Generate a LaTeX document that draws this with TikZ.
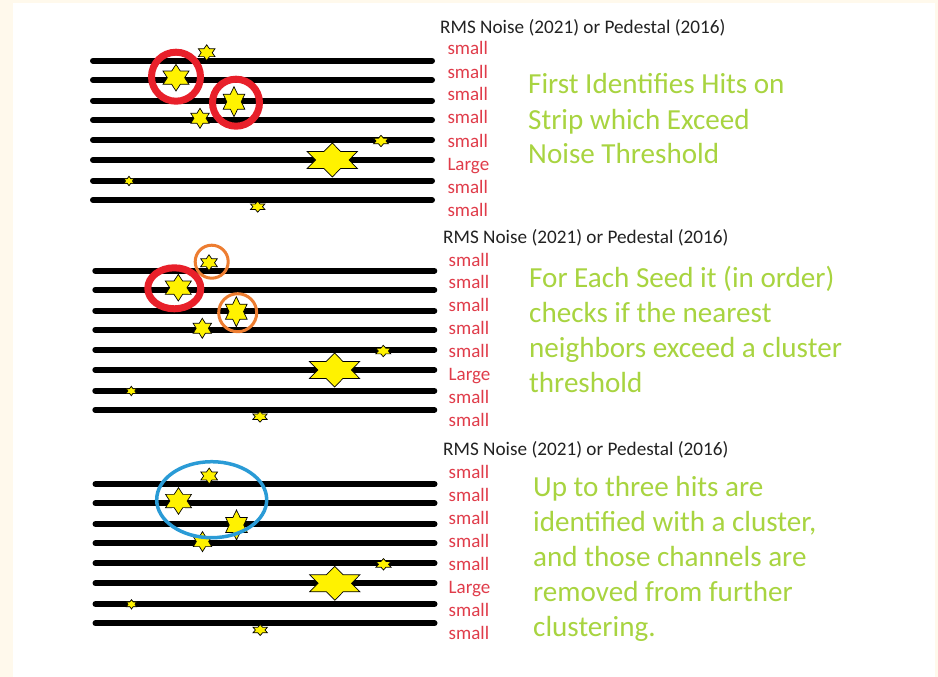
\documentclass[tikz,border=0pt]{standalone}
\usepackage{fontspec}
\setmainfont{Carlito}
\definecolor{cream}{HTML}{FFF9EC}
\definecolor{staryellow}{HTML}{FFF200}
\definecolor{ringred}{HTML}{E8202A}
\definecolor{ringorange}{HTML}{ED7D31}
\definecolor{ringblue}{HTML}{2A9BD6}
\definecolor{lvlred}{HTML}{E03C4A}
\definecolor{notegreen}{HTML}{A8D440}
\definecolor{headgray}{HTML}{222222}
\newcommand{\hitat}[4]{\draw[hitstar, shift={(#1,#2)}, xscale=#3, yscale=#4]
  (90:1) -- (120:0.577) -- (150:1) -- (180:0.577) -- (210:1) -- (240:0.577) --
  (270:1) -- (300:0.577) -- (330:1) -- (0:0.577) -- (30:1) -- (60:0.577) -- cycle;}
\newcommand{\stripset}{%
  \foreach \yy in {60.7,80,100.7,120,140,160,180.7,200}
    \draw[strip] (93,\yy) -- (432,\yy);
  \hitat{206.7}{52.7}{9.6}{7.9}
  \hitat{176}{77.7}{15}{13.3}
  \hitat{234}{101.7}{12.5}{15}
  \hitat{200}{118.3}{10.6}{10}
  \hitat{381}{141}{8.7}{5.7}
  \hitat{332.3}{160}{29}{17}
  \hitat{129}{181}{6}{4.7}
  \hitat{257.7}{206.7}{8.3}{5.5}
}
\begin{document}
\begin{tikzpicture}[x=1pt,y=-1pt,
  strip/.style={line width=6pt, line cap=round},
  hitstar/.style={draw=black, line width=0.7pt, fill=staryellow, line join=miter},
  seedring/.style={draw=ringred, line width=7pt},
  nbring/.style={draw=ringorange, line width=3pt},
  clusterring/.style={draw=ringblue, line width=3.5pt},
  header/.style={anchor=base west, inner sep=0pt, text=headgray, font=\fontsize{19.2}{23}\selectfont},
  lvl/.style={anchor=base west, inner sep=0pt, text=lvlred, font=\fontsize{19}{23}\selectfont},
  note/.style={anchor=base west, inner sep=0pt, text=notegreen, font=\fontsize{29.1}{35}\selectfont}]
\fill[cream] (0,0) rectangle (938,677);
\fill[white] (13,3) rectangle (935,677);
\useasboundingbox (0,0) rectangle (938,677);

% Panel 1
\stripset
\draw[seedring] (176,76.7) circle[radius=24.5];
\draw[seedring] (236,102.7) circle[radius=23.5];

% Panel 2
\begin{scope}[shift={(2.3,210)}]
  \stripset
  \draw[seedring] (172,78.3) ellipse[x radius=26.5, y radius=20.5];
  \draw[nbring] (209.4,51.7) circle[radius=16.5];
  \draw[nbring] (235.4,102.7) circle[radius=19];
\end{scope}

% Panel 3
\begin{scope}[shift={(2.5,423.3)}]
  \stripset
  \draw[clusterring] (209.2,76.4) ellipse[x radius=55, y radius=38];
\end{scope}

% Headers
\node[header] (hdr1) at (440,33.5) {RMS Noise (2021) or Pedestal (2016)};
\node[header] (hdr2) at (443,243) {RMS Noise (2021) or Pedestal (2016)};
\node[header] (hdr3) at (443,455) {RMS Noise (2021) or Pedestal (2016)};

% Level labels
\foreach \t [count=\i from 0] in {small,small,small,small,small,Large,small,small} {
  \node[lvl] (lvA\i) at (447.3,55+23*\i) {\t};
  \node[lvl] (lvB\i) at (448.5,266+22.86*\i) {\t};
  \node[lvl] (lvC\i) at (448.5,478+23.1*\i) {\t};
}

% Notes
\foreach \t [count=\i from 0] in {First Identifies Hits on,Strip which Exceed,Noise Threshold}
  \node[note] (ntA\i) at (528,94+35*\i) {\t};
\foreach \t [count=\i from 0] in {For Each Seed it (in order),checks if the nearest,neighbors exceed a cluster,threshold}
  \node[note] (ntB\i) at (529,287+35.3*\i) {\t};
\foreach \t [count=\i from 0] in {Up to three hits are,{identified with a cluster,},and those channels are,removed from further,clustering.}
  \node[note] (ntC\i) at (533,496+35*\i) {\t};
\end{tikzpicture}
\end{document}
